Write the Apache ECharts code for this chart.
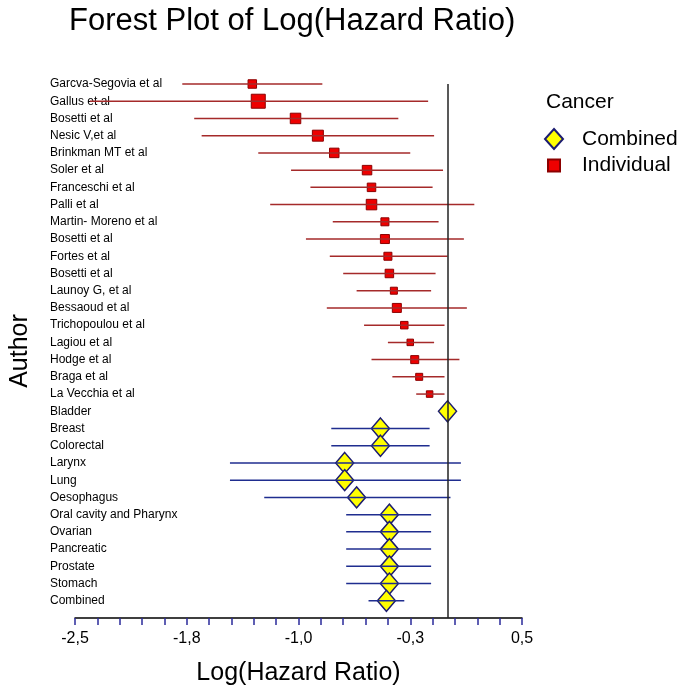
<!DOCTYPE html>
<html><head><meta charset="utf-8">
<script src="https://cdn.jsdelivr.net/npm/echarts@6/dist/echarts.min.js"></script>
<style>html,body{margin:0;padding:0;background:#fff}#c{width:685px;height:694px}</style>
</head><body><div id="c"></div>
<script>
var names = ['Garcva-Segovia et al','Gallus et al','Bosetti et al','Nesic V,et al','Brinkman MT et al','Soler et al','Franceschi et al','Palli et al','Martin- Moreno et al','Bosetti et al','Fortes et al','Bosetti et al','Launoy G, et al','Bessaoud et al','Trichopoulou et al','Lagiou et al','Hodge et al','Braga et al','La Vecchia et al','Bladder','Breast','Colorectal','Larynx','Lung','Oesophagus','Oral cavity and Pharynx','Ovarian','Pancreatic','Prostate','Stomach','Combined'];
var indivPoint = [-1.31,-1.27,-1.02,-0.87,-0.76,-0.54,-0.51,-0.51,-0.42,-0.42,-0.40,-0.39,-0.36,-0.34,-0.29,-0.25,-0.22,-0.19,-0.12];
var indivLow   = [-1.78,-2.40,-1.70,-1.65,-1.27,-1.05,-0.92,-1.19,-0.77,-0.95,-0.79,-0.70,-0.61,-0.81,-0.56,-0.40,-0.51,-0.37,-0.21];
var indivHigh  = [-0.84,-0.13,-0.33,-0.09,-0.25,-0.03,-0.10,0.18,-0.06,0.11,0.00,-0.08,-0.11,0.13,-0.02,-0.09,0.08,-0.02,-0.02];
var weights    = [8.5,14,10.5,11,9.5,9.5,8.5,10.5,8,9,8,8.5,7,9,7.5,6.5,8,7,6.5];
var combPoint = [0.00,-0.45,-0.45,-0.69,-0.69,-0.61,-0.39,-0.39,-0.39,-0.39,-0.39,-0.41];
var combLow   = [0.00,-0.78,-0.78,-1.46,-1.46,-1.23,-0.68,-0.68,-0.68,-0.68,-0.68,-0.53];
var combHigh  = [0.00,-0.12,-0.12,0.09,0.09,0.02,-0.11,-0.11,-0.11,-0.11,-0.11,-0.29];
var tickLabels = ['-2,5','-1,8','-1,0','-0,3','0,5'];
var xMin = -2.5, xMax = 0.5, xStep = 0.75;

var FONT = '"Liberation Sans", Arial, sans-serif';
var nInd = indivPoint.length;
var indivData = indivPoint.map(function(p,i){return [p,i,weights[i]];});
var indivCI = indivPoint.map(function(p,i){return [indivLow[i],indivHigh[i],i];});
var combData = combPoint.map(function(p,i){return [p,i+nInd];});
var combCI = combPoint.map(function(p,i){return [combLow[i],combHigh[i],i+nInd];});

function ciRender(color){
  return function(params, api){
    var a = api.coord([api.value(0), api.value(2)]);
    var b = api.coord([api.value(1), api.value(2)]);
    return {type:'line', shape:{x1:a[0],y1:a[1],x2:b[0],y2:b[1]}, style:{stroke:color,lineWidth:1.5}};
  };
}

var chart = echarts.init(document.getElementById('c'), null, {renderer:'canvas'});
chart.setOption({
  animation:false,
  textStyle:{fontFamily:FONT},
  title:[
    {text:'Forest Plot of Log(Hazard Ratio)', left:69, top:6, padding:0, textStyle:{fontSize:31,fontWeight:'normal',color:'#000',fontFamily:FONT}},
    {text:'Cancer', left:546, top:92, padding:0, textStyle:{fontSize:21,fontWeight:'normal',color:'#000',fontFamily:FONT}}
  ],
  legend:[
    {data:['Combined'], orient:'vertical', left:544, top:128, padding:0, icon:'diamond', itemWidth:18, itemHeight:20,
     textStyle:{fontSize:21,color:'#000',fontFamily:FONT,padding:[0,0,0,14]}},
    {data:['Individual'], orient:'vertical', left:547, top:155, padding:0, icon:'rect', itemWidth:12, itemHeight:12,
     textStyle:{fontSize:21,color:'#000',fontFamily:FONT,padding:[0,0,0,17]}}
  ],
  grid:{left:75,right:163,top:84,bottom:76},
  xAxis:{type:'value', min:xMin, max:xMax, interval:xStep,
    name:'Log(Hazard Ratio)', nameLocation:'middle', nameGap:43,
    nameTextStyle:{fontSize:25,color:'#000',fontFamily:FONT},
    axisLine:{show:true,onZero:false,lineStyle:{color:'#000',width:1.5}},
    axisTick:{show:true,inside:false,length:7,lineStyle:{color:'#2b2b9b',width:1.5}},
    minorTick:{show:true,splitNumber:5,length:7,lineStyle:{color:'#2b2b9b',width:1.5}},
    splitLine:{show:false},
    axisLabel:{fontSize:16,color:'#000',margin:13,fontFamily:FONT,
      formatter:function(v){var k=Math.round((v-xMin)/xStep);return tickLabels[k]!==undefined?tickLabels[k]:'';}}
  },
  yAxis:{type:'value', min:0, max:names.length, interval:1, inverse:true,
    name:'Author', nameLocation:'middle', nameGap:42, nameRotate:90,
    nameTextStyle:{fontSize:25,color:'#000',fontFamily:FONT},
    axisLine:{show:false}, axisTick:{show:false}, splitLine:{show:false},
    axisLabel:{fontSize:12,color:'#000',align:'left',margin:25,fontFamily:FONT,
      formatter:function(v){return names[v]||'';}}
  },
  series:[
    {name:'Individual', type:'scatter', data:indivData, symbol:'rect',
     symbolSize:function(d){return d[2];},
     itemStyle:{color:'#ee0000',borderColor:'#8b0000',borderWidth:1,opacity:1}, z:3},
    {name:'Combined', type:'scatter', data:combData, symbol:'diamond', symbolSize:[18,21],
     itemStyle:{color:'#ffff00',borderColor:'#1c1c70',borderWidth:1.5,opacity:1}, z:3},
    {name:'IndivCI', type:'custom', data:indivCI, renderItem:ciRender('#a52a2a'), z:4, silent:true,
     markLine:{silent:true, symbol:'none', label:{show:false}, data:[{xAxis:0}], lineStyle:{color:'#222',type:'solid',width:1.5}}},
    {name:'CombCI', type:'custom', data:combCI, renderItem:ciRender('#1f2d8f'), z:4, silent:true}
  ]
});
</script></body></html>
